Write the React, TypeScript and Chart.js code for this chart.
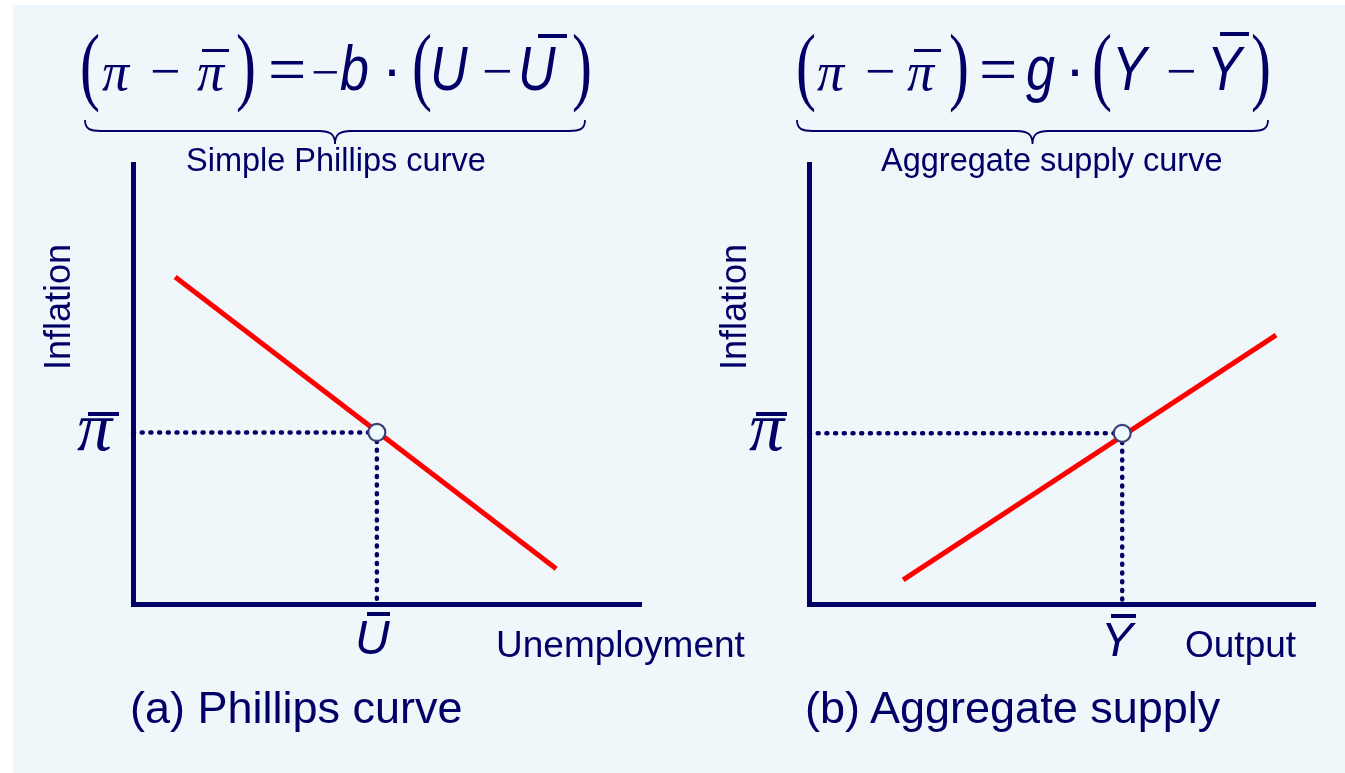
import React, { useEffect, useRef } from "react";
import { Chart, registerables } from "chart.js";

Chart.register(...registerables);

const NAVY = "#000066";
const RED = "#ff0000";
const SANS = '"Liberation Sans", Arial, Helvetica, sans-serif';
const SERIF = '"Liberation Serif", "Times New Roman", Times, serif';

// ---- data (axis units 0..10 on both axes) ----
const axisRange = [0, 10];
// (a) Phillips curve
const phillipsX = [0.83, 8.33];
const phillipsY = [7.43, 0.8];
const naturalU = 4.8; // U-bar
const expectedPiA = 3.9; // pi-bar
// (b) Aggregate supply
const supplyX = [1.86, 9.23];
const supplyY = [0.55, 6.11];
const potentialY = 6.19; // Y-bar
const expectedPiB = 3.88; // pi-bar

// ---- text ----
const captions = ["(a) Phillips curve", "(b) Aggregate supply"];
const subtitles = ["Simple Phillips curve", "Aggregate supply curve"];
const xTitles = ["Unemployment", "Output"];
const yTitle = "Inflation";

type PanelProps = {
  left: number;
  top: number;
  width: number;
  height: number;
  lineX: number[];
  lineY: number[];
  starX: number;
  starY: number;
};

function PanelChart({ left, top, width, height, lineX, lineY, starX, starY }: PanelProps) {
  const ref = useRef<HTMLCanvasElement>(null);
  useEffect(() => {
    const canvas = ref.current;
    if (!canvas) return;
    const axis = () => ({
      type: "linear" as const,
      min: axisRange[0],
      max: axisRange[1],
      display: true,
      grid: { display: false, drawTicks: false },
      ticks: { display: false },
      border: { display: true, width: 5, color: NAVY },
    });
    const dotted = {
      borderColor: NAVY,
      borderWidth: 4.5,
      borderDash: [1, 7.7],
      borderCapStyle: "round" as const,
      pointRadius: 0,
      pointHoverRadius: 0,
      order: 2,
      clip: false as const,
    };
    const chart = new Chart(canvas, {
      type: "line",
      data: {
        datasets: [
          {
            label: "equilibrium",
            data: [{ x: starX, y: starY }],
            showLine: false,
            pointRadius: 8.5,
            pointHoverRadius: 8.5,
            pointBackgroundColor: "#eef9fb",
            pointBorderColor: "#3c4277",
            pointBorderWidth: 2.2,
            order: 0,
            clip: false,
          },
          {
            label: "curve",
            data: lineX.map((x, i) => ({ x, y: lineY[i] })),
            borderColor: RED,
            borderWidth: 5,
            borderCapStyle: "butt",
            pointRadius: 0,
            pointHoverRadius: 0,
            order: 1,
            clip: false,
          },
          {
            label: "h",
            data: [
              { x: axisRange[0], y: starY },
              { x: starX, y: starY },
            ],
            ...dotted,
          },
          {
            label: "v",
            data: [
              { x: starX, y: starY },
              { x: starX, y: axisRange[0] },
            ],
            ...dotted,
          },
        ],
      },
      options: {
        responsive: false,
        animation: false,
        events: [],
        layout: { padding: 10, autoPadding: false },
        plugins: {
          legend: { display: false },
          tooltip: { enabled: false },
          title: { display: false },
        },
        scales: { x: axis(), y: axis() },
      },
    } as any);
    return () => chart.destroy();
  }, []);
  return (
    <canvas
      ref={ref}
      width={width}
      height={height}
      style={{ position: "absolute", left, top, width, height }}
    />
  );
}

type TokProps = {
  x: number;
  b: number;
  s: number;
  t: string;
  font?: string;
  it?: boolean;
  sy?: number;
  sx?: number;
  oy?: number;
};

function Tok({ x, b, s, t, font, it, sy, sx, oy }: TokProps) {
  const fam = font || SANS;
  const off = fam === SANS ? 0.8465 * s : 0.8375 * s;
  const originY = oy !== undefined ? off - oy * s : off;
  const tf = sy || sx ? `scale(${sx || 1}, ${sy || 1})` : undefined;
  return (
    <span
      style={{
        position: "absolute",
        left: x,
        top: b - off,
        fontSize: s,
        lineHeight: `${s}px`,
        fontFamily: fam,
        fontStyle: it ? "italic" : "normal",
        color: NAVY,
        whiteSpace: "pre",
        transform: tf,
        transformOrigin: `0px ${originY}px`,
      }}
    >
      {t}
    </span>
  );
}

function Bar({ x, y, w, h }: { x: number; y: number; w: number; h: number }) {
  return (
    <div style={{ position: "absolute", left: x, top: y, width: w, height: h, background: NAVY }} />
  );
}

function bracePath(x0: number, x1: number, yTop: number, yMid: number, yTip: number) {
  const xm = (x0 + x1) / 2;
  return `M ${x0} ${yTop} C ${x0} ${yMid - 2} ${x0 + 5} ${yMid} ${x0 + 16} ${yMid} L ${xm - 16} ${yMid} C ${xm - 5} ${yMid} ${xm} ${yMid + 3} ${xm} ${yTip} C ${xm} ${yMid + 3} ${xm + 5} ${yMid} ${xm + 16} ${yMid} L ${x1 - 16} ${yMid} C ${x1 - 5} ${yMid} ${x1} ${yMid - 2} ${x1} ${yTop}`;
}

function Paren({ x, t }: { x: number; t: string }) {
  return <Tok x={x} b={87} s={60} t={t} font={SERIF} sy={1.45} oy={0.25} />;
}

function Pi({ x, b, s }: { x: number; b: number; s: number }) {
  return <Tok x={x} b={b} s={s} t="π" font={SERIF} it />;
}

export default function App() {
  const EB = 90; // equation baseline
  const LS = 52; // letter size
  const LSY = 1.2;
  const PS = 54; // pi size
  const MB = 89; // minus baseline
  return (
    <div
      style={{
        position: "fixed",
        left: 0,
        top: 0,
        width: 1345,
        height: 773,
        background: "#ffffff",
        overflow: "hidden",
      }}
    >
      <div style={{ position: "absolute", left: 13, top: 5, right: 0, bottom: 0, background: "#f0f7fa" }} />

      <PanelChart
        left={123}
        top={154}
        width={528}
        height={460}
        lineX={phillipsX}
        lineY={phillipsY}
        starX={naturalU}
        starY={expectedPiA}
      />
      <PanelChart
        left={799}
        top={154}
        width={526}
        height={460}
        lineX={supplyX}
        lineY={supplyY}
        starX={potentialY}
        starY={expectedPiB}
      />

      <svg
        width={1345}
        height={773}
        style={{ position: "absolute", left: 0, top: 0, pointerEvents: "none" }}
      >
        <path d={bracePath(85, 585, 120, 131, 144)} fill="none" stroke={NAVY} strokeWidth={1.8} />
        <path d={bracePath(797, 1268, 120, 131, 144)} fill="none" stroke={NAVY} strokeWidth={1.8} />
      </svg>

      {/* left equation */}
      <Paren x={80} t="(" />
      <Pi x={102} b={EB} s={PS} />
      <Tok x={150} b={MB} s={54} t="−" font={SERIF} />
      <Pi x={197} b={EB} s={PS} />
      <Bar x={202} y={49} w={27} h={3} />
      <Paren x={236} t=")" />
      <Tok x={268} b={EB + 2} s={68} t="=" font={SERIF} />
      <Tok x={311} b={MB} s={50} t="−" font={SERIF} />
      <Tok x={340} b={EB} s={LS} t="b" it sy={LSY} />
      <Tok x={382} b={EB} s={60} t="·" />
      <Paren x={412} t="(" />
      <Tok x={430} b={EB} s={LS} t="U" it sy={LSY} />
      <Tok x={482} b={MB} s={54} t="−" font={SERIF} />
      <Tok x={518} b={EB} s={LS} t="U" it sy={LSY} />
      <Bar x={538} y={34} w={29} h={4} />
      <Paren x={572} t=")" />

      {/* right equation */}
      <Paren x={796} t="(" />
      <Pi x={817} b={EB} s={PS} />
      <Tok x={865} b={MB} s={54} t="−" font={SERIF} />
      <Pi x={907} b={EB} s={PS} />
      <Bar x={914} y={49} w={27} h={3} />
      <Paren x={949} t=")" />
      <Tok x={979} b={EB + 2} s={68} t="=" font={SERIF} />
      <Tok x={1026} b={EB} s={LS} t="g" it sy={LSY} />
      <Tok x={1065} b={EB} s={60} t="·" />
      <Paren x={1092} t="(" />
      <Tok x={1112} b={EB} s={LS} t="Y" it sy={LSY} />
      <Tok x={1166} b={MB} s={54} t="−" font={SERIF} />
      <Tok x={1207} b={EB} s={LS} t="Y" it sy={LSY} />
      <Bar x={1220} y={32} w={29} h={4} />
      <Paren x={1251} t=")" />

      {/* subtitles */}
      <Tok x={186} b={172} s={32.5} t={subtitles[0]} />
      <Tok x={881} b={172} s={32.5} t={subtitles[1]} />

      {/* y titles (rotated) */}
      {[70, 746].map((bx) => (
        <div
          key={bx}
          style={{
            position: "absolute",
            left: bx - 0.8465 * 36,
            top: 370,
            transform: "rotate(-90deg)",
            transformOrigin: "0 0",
            fontFamily: SANS,
            fontSize: 36,
            lineHeight: "36px",
            color: NAVY,
            whiteSpace: "pre",
          }}
        >
          {yTitle}
        </div>
      ))}

      {/* pi-bar tick labels */}
      <Pi x={77} b={451} s={70} />
      <Bar x={88} y={412} w={31} h={4} />
      <Pi x={749} b={451} s={70} />
      <Bar x={756} y={412} w={31} h={4} />

      {/* U-bar and Y-bar labels */}
      <Tok x={355} b={655} s={48} t="U" it />
      <Bar x={367} y={612} w={23} h={4} />
      <Tok x={1101} b={657} s={48} t="Y" it />
      <Bar x={1111} y={614} w={25} h={3.5} />

      {/* x titles */}
      <Tok x={496} b={657} s={37} t={xTitles[0]} />
      <Tok x={1185} b={657} s={37} t={xTitles[1]} />

      {/* captions */}
      <Tok x={130} b={723} s={45} t={captions[0]} />
      <Tok x={805} b={723} s={45} t={captions[1]} />
    </div>
  );
}
